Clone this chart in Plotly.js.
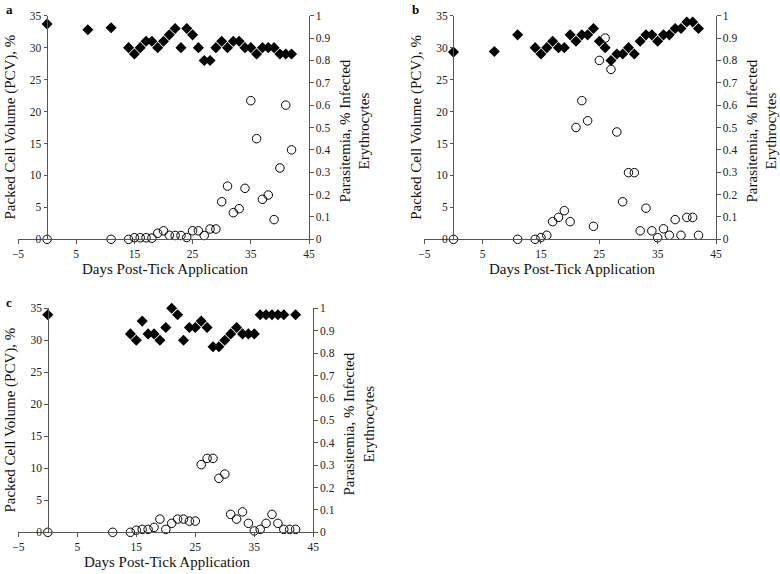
<!DOCTYPE html>
<html>
<head>
<meta charset="utf-8">
<script src="https://cdn.plot.ly/plotly-3.0.1.min.js"></script>
<style>html,body{margin:0;padding:0;background:#fff;}#chart{width:780px;height:574px;}</style>
</head>
<body>
<div id="chart"></div>
<script>
// ---- Data ----
const pcvDaysA = [0,7,11,14,15,16,17,18,19,20,21,22,23,24,25,26,27,28,29,30,31,32,33,34,35,36,37,38,39,40,41,42];
const pcvA = [33.7,32.8,33.1,30,29,30,31,31,30,31,32,33,30,33,32,30,28,28,30,31,30,31,31,30,30,29,30,30,30,29,29,29];
const parDaysA = [0,11,14,15,16,17,18,19,20,21,22,23,24,25,26,27,28,29,30,31,32,33,34,35,36,37,38,39,40,41,42];
const parA = [0,0,0,0.007,0.007,0.007,0.005,0.027,0.038,0.018,0.017,0.017,0.008,0.038,0.038,0.017,0.046,0.046,0.168,0.238,0.119,0.137,0.228,0.62,0.45,0.179,0.198,0.088,0.319,0.60,0.40];

const pcvDaysB = [0,7,11,14,15,16,17,18,19,20,21,22,23,24,25,26,27,28,29,30,31,32,33,34,35,36,37,38,39,40,41,42];
const pcvB = [29.3,29.4,32,30,29,30,31,30,30,32,31,32,32,33,31,30,28,29,29,30,29,31,32,32,31,32,32,33,33,34,34,33];
const parDaysB = [0,11,14,15,16,17,18,19,20,21,22,23,24,25,26,27,28,29,30,31,32,33,34,35,36,37,38,39,40,41,42];
const parB = [0,0,0,0.008,0.018,0.079,0.098,0.128,0.079,0.50,0.62,0.53,0.058,0.80,0.90,0.76,0.48,0.168,0.298,0.298,0.038,0.139,0.038,0.007,0.047,0.018,0.088,0.018,0.098,0.098,0.018];

const pcvDaysC = [0,14,15,16,17,18,19,20,21,22,23,24,25,26,27,28,29,30,31,32,33,34,35,36,37,38,39,40,42];
const pcvC = [34,31,30,33,31,31,30,32,35,34,30,32,32,33,32,29,29,30,31,32,31,31,31,34,34,34,34,34,34];
const parDaysC = [0,11,14,15,16,17,18,19,20,21,22,23,24,25,26,27,28,29,30,31,32,33,34,35,36,37,38,39,40,41,42];
const parC = [0,0,0,0.009,0.013,0.013,0.022,0.059,0.013,0.04,0.059,0.059,0.05,0.05,0.302,0.33,0.33,0.241,0.26,0.08,0.059,0.091,0.04,0.006,0.013,0.04,0.08,0.04,0.013,0.013,0.013];

const panelLabels = ['a','b','c'];
const xTitle = 'Days Post-Tick Application';
const yLeftTitle = 'Packed Cell Volume (PCV), %';
const yRightTitle = 'Parasitemia, % Infected<br>Erythrocytes';
const xTicks = [-5,5,15,25,35,45];
const yLeftTicks = [0,5,10,15,20,25,30,35];
const yRightTicks = [0,0.1,0.2,0.3,0.4,0.5,0.6,0.7,0.8,0.9,1];
const yRightText = ['0','0.1','0.2','0.3','0.4','0.5','0.6','0.7','0.8','0.9','1'];

// ---- Layout helpers ----
const W = 780, H = 574;
const px = v => v / W;
const py = v => (H - v) / H;
const serif = '"Liberation Serif", "Times New Roman", serif';
const lineCol = '#555';
const tf = {family: serif, size: 11.5, color: '#222'};

const panels = [
  {pcvX: pcvDaysA, pcvY: pcvA, parX: parDaysA, parY: parA, x0: 18, x1: 309, yTop: 15.7, yBot: 239.3},
  {pcvX: pcvDaysB, pcvY: pcvB, parX: parDaysB, parY: parB, x0: 424.3, x1: 716, yTop: 15.7, yBot: 239.3},
  {pcvX: pcvDaysC, pcvY: pcvC, parX: parDaysC, parY: parC, x0: 18.3, x1: 313.3, yTop: 308.3, yBot: 532.3}
];

const traces = [];
const layout = {
  width: W, height: H,
  margin: {l: 0, r: 0, t: 0, b: 0},
  paper_bgcolor: '#fff', plot_bgcolor: 'rgba(0,0,0,0)',
  showlegend: false,
  font: {family: serif, size: 11.5, color: '#111'},
  annotations: []
};

panels.forEach((p, i) => {
  const xn = i === 0 ? '' : String(i + 1);
  const xo = String(i + 4);             // overlay x axis for inner ticks
  const yl = i === 0 ? '' : String(2 * i + 1);
  const yr = String(2 * i + 2);
  const ylo = String(i + 7);            // overlay left y inner ticks
  const yro = String(i + 10);           // overlay right y inner ticks
  const xa = 'x' + xn, yla = 'y' + yl, yra = 'y' + yr;

  const xDom = [px(p.x0), px(p.x1)];
  const yDom = [py(p.yBot), py(p.yTop)];
  const leftPos = px(p.x0 + (p.x1 - p.x0) * 5 / 50);

  const tickBase = {ticklen: 3.5, tickcolor: lineCol, tickwidth: 1, showgrid: false, zeroline: false, tickfont: tf};

  layout['xaxis' + xn] = Object.assign({
    domain: xDom, range: [-5, 45], anchor: yla,
    tickmode: 'array', tickvals: xTicks, ticks: 'outside',
    showline: true, linecolor: lineCol, linewidth: 1
  }, tickBase);
  layout['xaxis' + xo] = Object.assign({
    domain: xDom, range: [-5, 45], anchor: yla, overlaying: xa,
    tickmode: 'array', tickvals: xTicks, ticks: 'inside',
    showline: false, showticklabels: false
  }, tickBase);

  layout['yaxis' + yl] = Object.assign({
    domain: yDom, range: [0, 35], anchor: 'free', position: leftPos,
    tickmode: 'array', tickvals: yLeftTicks, ticks: 'outside',
    showline: true, linecolor: lineCol, linewidth: 1
  }, tickBase);
  layout['yaxis' + ylo] = Object.assign({
    domain: yDom, range: [0, 35], anchor: 'free', position: leftPos, overlaying: yla,
    tickmode: 'array', tickvals: yLeftTicks, ticks: 'inside',
    showline: false, showticklabels: false
  }, tickBase);

  layout['yaxis' + yr] = Object.assign({
    domain: yDom, range: [0, 1], anchor: xa, side: 'right', overlaying: yla,
    tickmode: 'array', tickvals: yRightTicks, ticktext: yRightText, ticks: 'outside',
    showline: true, linecolor: lineCol, linewidth: 1
  }, tickBase);
  layout['yaxis' + yro] = Object.assign({
    domain: yDom, range: [0, 1], anchor: xa, side: 'right', overlaying: yla,
    tickmode: 'array', tickvals: yRightTicks, ticks: 'inside',
    showline: false, showticklabels: false
  }, tickBase);

  traces.push({
    type: 'scatter', mode: 'markers', x: p.pcvX, y: p.pcvY, xaxis: xa, yaxis: yla,
    marker: {symbol: 'diamond', size: 8.5, color: '#000'}, cliponaxis: false
  });
  traces.push({
    type: 'scatter', mode: 'markers', x: p.parX, y: p.parY, xaxis: xa, yaxis: yra,
    marker: {symbol: 'circle-open', size: 8.5, color: '#000', line: {width: 1, color: '#000'}}, cliponaxis: false
  });

  const midX = (p.x0 + p.x1) / 2;
  const midY = (p.yTop + p.yBot) / 2;
  layout.annotations.push(
    {text: xTitle, xref: 'paper', yref: 'paper', x: px(midX + 2), y: py(p.yBot + 30), showarrow: false,
     font: {family: serif, size: 15, color: '#111'}, xanchor: 'center', yanchor: 'middle'},
    {text: yLeftTitle, xref: 'paper', yref: 'paper', x: px(p.x0 - 8), y: py(midY), textangle: -90, showarrow: false,
     font: {family: serif, size: 15, color: '#111'}, xanchor: 'center', yanchor: 'middle'},
    {text: yRightTitle, xref: 'paper', yref: 'paper', x: px(p.x1 + 46), y: py(midY + 4), textangle: -90, showarrow: false,
     font: {family: serif, size: 15, color: '#111'}, xanchor: 'center', yanchor: 'middle'},
    {text: '<b>' + panelLabels[i] + '</b>', xref: 'paper', yref: 'paper', x: px(p.x0 - 14), y: py(p.yTop - 6), showarrow: false,
     font: {family: serif, size: 13, color: '#000'}, xanchor: 'left', yanchor: 'middle'}
  );
});

Plotly.newPlot('chart', traces, layout, {staticPlot: true, displayModeBar: false});
</script>
</body>
</html>
